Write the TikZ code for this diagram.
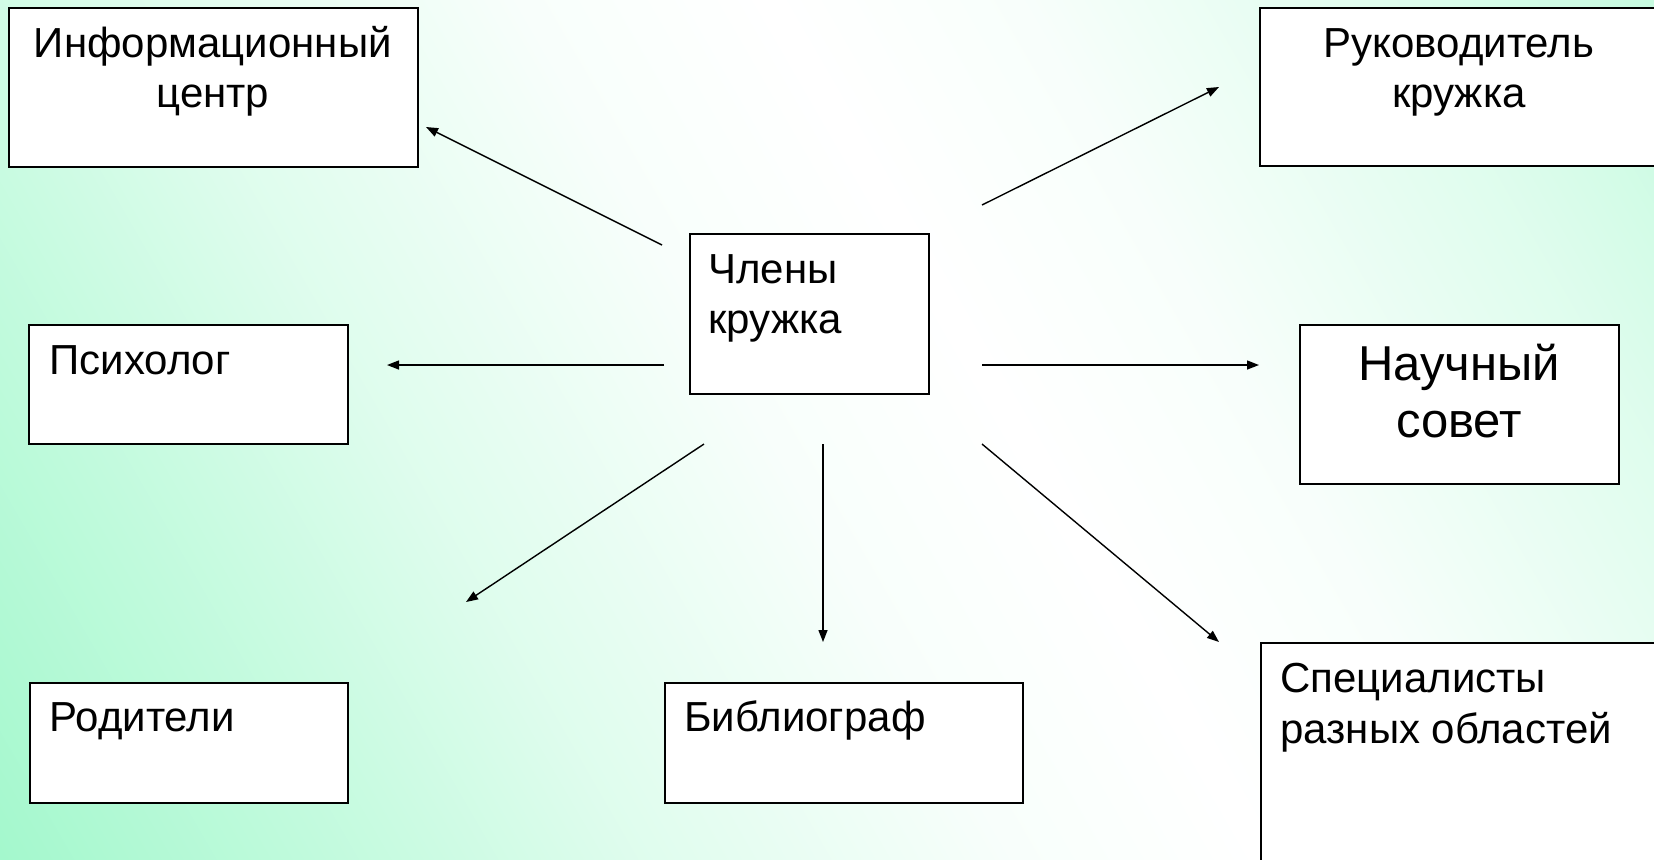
\documentclass[tikz,border=0pt]{standalone}
\usepackage{fontspec}
\setmainfont{Liberation Sans}
\usetikzlibrary{arrows.meta}
\definecolor{mint}{RGB}{164,248,205}
\colorlet{mintA}{mint!62!white}
\colorlet{mintB}{mint!36!white}
\colorlet{mintC}{mint!8!white}
\pgfdeclarehorizontalshading{bgshade}{100bp}{color(0bp)=(mint); color(25bp)=(mint); color(32.5bp)=(mintA); color(37.5bp)=(mintB); color(45bp)=(mintC); color(50bp)=(white); color(55bp)=(mintC); color(62.5bp)=(mintB); color(67.5bp)=(mintA); color(75bp)=(mint); color(100bp)=(mint)}
\begin{document}
\begin{tikzpicture}[x=0.5pt,y=-0.5pt,
  box/.style={draw=black, line width=1pt, fill=white, inner sep=0pt, anchor=north west},
  lbl/.style={inner sep=0pt, font=\fontsize{21}{25}\selectfont},
  big/.style={inner sep=0pt, font=\fontsize{24.5}{29}\selectfont},
  arr/.style={-{Triangle[length=6pt,width=4.5pt]}, line width=0.7pt},
]
\useasboundingbox (0,0) rectangle (1654,859);
\clip (0,0) rectangle (1654,859);
\shade[shading=bgshade, shading angle=30] (-100,-700) rectangle (2100,1500);

% boxes
\node[box, minimum width=204.5pt, minimum height=79.7pt] (info) at (8.3,6.7) {};
\node[box, minimum width=205.5pt, minimum height=79.2pt] (ruk) at (1259,6.7) {};
\node[box, minimum width=119.5pt, minimum height=80pt] (chl) at (689,233) {};
\node[box, minimum width=159.2pt, minimum height=59.5pt] (psy) at (28.3,324) {};
\node[box, minimum width=159.5pt, minimum height=79.5pt] (nauch) at (1299,324) {};
\node[box, minimum width=159pt, minimum height=60pt] (rod) at (28.7,682) {};
\node[box, minimum width=179pt, minimum height=60pt] (bib) at (664,682) {};
\node[box, minimum width=205pt, minimum height=120pt] (spec) at (1260,642) {};

% texts
\node[lbl, anchor=base] (infoA) at (212.8,57) {Информационный};
\node[lbl, anchor=base] (infoB) at (212.8,107) {центр};
\node[lbl, anchor=base] (rukA) at (1459,57) {Руководитель};
\node[lbl, anchor=base] (rukB) at (1459,107) {кружка};
\node[lbl, anchor=base west] (chlA) at (708,283) {Члены};
\node[lbl, anchor=base west] (chlB) at (708,333) {кружка};
\node[lbl, anchor=base west] (psyA) at (49,374) {Психолог};
\node[big, anchor=base] (nauchA) at (1459,380) {Научный};
\node[big, anchor=base] (nauchB) at (1459,437) {совет};
\node[lbl, anchor=base west] (rodA) at (49,731) {Родители};
\node[lbl, anchor=base west] (bibA) at (684,731) {Библиограф};
\node[lbl, anchor=base west] (specA) at (1280,692) {Специалисты};
\node[lbl, anchor=base west] (specB) at (1280,743) {разных областей};

% connector ends
\coordinate (s1) at (662,245);  \coordinate (e1) at (426,127);
\coordinate (s2) at (664,365);  \coordinate (e2) at (387,365);
\coordinate (s3) at (704,444);  \coordinate (e3) at (466,602);
\coordinate (s4) at (823,444);  \coordinate (e4) at (823,642);
\coordinate (s5) at (982,444);  \coordinate (e5) at (1219,642);
\coordinate (s6) at (982,365);  \coordinate (e6) at (1259,365);
\coordinate (s7) at (982,205);  \coordinate (e7) at (1219,87);

\draw[arr] (s1) -- (e1);
\draw[arr] (s2) -- (e2);
\draw[arr] (s3) -- (e3);
\draw[arr] (s4) -- (e4);
\draw[arr] (s5) -- (e5);
\draw[arr] (s6) -- (e6);
\draw[arr] (s7) -- (e7);
\end{tikzpicture}
\end{document}
